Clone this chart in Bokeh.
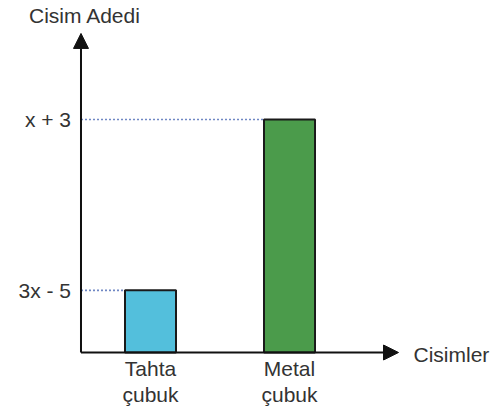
from bokeh.plotting import figure
from bokeh.models import Range1d, Arrow, NormalHead, Label, ColumnDataSource
from bokeh.core.properties import value
from bokeh.embed import file_html
from bokeh.resources import INLINE

# ---- data ----
categories = ["Tahta\nçubuk", "Metal\nçubuk"]
counts = [4, 15]                     # relative bar heights (3x - 5, x + 3)
count_labels = ["3x - 5", "x + 3"]
bar_colors = ["#53bfdc", "#4b9b4b"]
x_title = "Cisimler"
y_title = "Cisim Adedi"

FONT = value("Liberation Sans")
TXT = "#333333"
FS = "21px"

xs = [i + 0.5 for i in range(len(categories))]
bar_w = 0.367
y_tip = 20.54
x_tip = 2.284

p = figure(width=497, height=414, output_backend="svg", toolbar_location=None,
           x_range=Range1d(-0.579, 2.996), y_range=Range1d(-3.991, 22.661),
           x_axis_location=None, y_axis_location=None, title=None,
           min_border=0, outline_line_color=None, tools="")
p.xgrid.visible = False
p.ygrid.visible = False

src = ColumnDataSource(dict(x=xs, top=counts, color=bar_colors, cat=categories,
                            lab=count_labels, x0=[0] * len(xs),
                            x1=[x - bar_w / 2 for x in xs]))

# dotted guides
p.segment(x0="x0", y0="top", x1="x1", y1="top", source=src,
          line_color="#7088c4", line_width=1.6, line_dash="2 2")

# bars
p.vbar(x="x", top="top", bottom=0, width=bar_w, source=src,
       fill_color="color", line_color="#1a1a1a", line_width=2)

# axes with arrows
p.add_layout(Arrow(x_start=0, y_start=0, x_end=0, y_end=y_tip, line_width=2,
                   line_color="#111111",
                   end=NormalHead(size=15, fill_color="#111111", line_color="#111111")))
p.add_layout(Arrow(x_start=0, y_start=0, x_end=x_tip, y_end=0, line_width=2,
                   line_color="#111111",
                   end=NormalHead(size=15, fill_color="#111111", line_color="#111111")))

# tick-like labels
p.text(x="x0", y="top", text="lab", source=src, x_offset=-10,
       text_align="right", text_baseline="middle", text_font=FONT,
       text_font_size=FS, text_color=TXT)
p.text(x="x", y=0, text="cat", source=src, y_offset=4,
       text_align="center", text_baseline="top", text_font=FONT,
       text_font_size=FS, text_color=TXT, text_line_height=1.15)

# axis titles
p.add_layout(Label(x=0, y=y_tip, x_offset=-52, y_offset=18, text=y_title,
                   text_font="Liberation Sans", text_font_size=FS,
                   text_color=TXT, text_baseline="alphabetic"))
p.add_layout(Label(x=x_tip, y=0, x_offset=15, y_offset=-2, text=x_title,
                   text_font="Liberation Sans", text_font_size=FS,
                   text_color=TXT, text_baseline="alphabetic"))

open("out.html", "w").write(file_html(p, INLINE))
